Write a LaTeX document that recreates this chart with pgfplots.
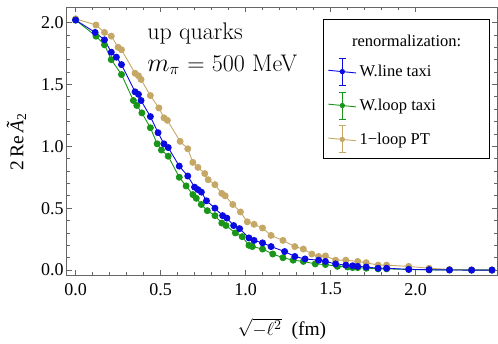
\documentclass[border=0pt]{standalone}
\usepackage{fontspec}
\setmainfont{Liberation Serif}
\newfontfamily\lmfont{Latin Modern Roman}
\usepackage{pgfplots}
\pgfplotsset{compat=1.18}
\definecolor{cblue}{RGB}{10,10,225}
\definecolor{cgreen}{RGB}{25,150,25}
\definecolor{ctan}{RGB}{198,168,102}
\definecolor{frm}{gray}{0.4}
\begin{document}
\begin{tikzpicture}
\useasboundingbox (-44.5pt,-45.6pt) rectangle (287.5pt,183.7pt);
\begin{axis}[
  at={(0,0)}, anchor=south west,
  scale only axis, width=286.9pt, height=179pt,
  xmin=-0.052, xmax=2.48, ymin=-0.044, ymax=2.125,
  axis line style={frm, line width=0.6pt},
  xtick={0,0.5,1,1.5,2}, ytick={0,0.5,1,1.5,2},
  minor x tick num=4, minor y tick num=4,
  xtick pos=both, ytick pos=both,
  xticklabel pos=lower, yticklabel pos=left,
  tick style={frm, line width=0.5pt},
  major tick length=3.6pt, minor tick length=2.2pt,
  tick align=inside,
  /pgf/number format/fixed, /pgf/number format/fixed zerofill,
  /pgf/number format/precision=1, /pgf/number format/assume math mode=true,
  tick label style={font=\fontsize{12}{14}\selectfont, black},
  xticklabel style={yshift=-1.5pt},
  yticklabel style={xshift=1.5pt},
  xlabel={$\sqrt{-\ell^2}$\ \ (fm)},
  ylabel={2\,Re\,\textit{Ã}\textsubscript{2}},
  every axis x label/.style={at={([yshift=-35.5pt]axis description cs:0.5,0)}, anchor=center, inner sep=0pt, font=\fontsize{13}{15}\selectfont},
  every axis y label/.style={at={([xshift=-33.5pt]axis description cs:0,0.5)}, anchor=center, rotate=90, font=\fontsize{13}{15}\selectfont},
  legend style={at={([xshift=-4.7pt,yshift=-8pt]axis description cs:1,1)}, anchor=north east,
    draw=black, line width=0.5pt, font=\fontsize{11}{13}\selectfont, row sep=4pt, inner xsep=3pt, inner ysep=3.5pt},
  legend cell align=left,
]
% 1-loop PT
\addplot[ctan, line width=0.6pt, mark=*, mark size=2pt, mark options={solid, fill=ctan, draw=ctan}, forget plot,
  error bars/.cd, y dir=both, y fixed=0.012, error bar style={ctan, line width=0.5pt}, error mark options={rotate=90, mark size=1.6pt, ctan}]
coordinates {
(0.00,2.03) (0.12,1.98) (0.17,1.92) (0.21,1.89) (0.25,1.80) (0.27,1.78)
(0.35,1.59) (0.37,1.57) (0.385,1.54) (0.44,1.41) (0.49,1.31) (0.52,1.23)
(0.54,1.21) (0.615,1.04) (0.66,0.98) (0.69,0.87) (0.72,0.83) (0.76,0.78)
(0.78,0.73) (0.82,0.69) (0.86,0.62) (0.88,0.60) (0.925,0.53) (0.97,0.47)
(1.01,0.39) (1.05,0.37) (1.10,0.34) (1.15,0.28) (1.22,0.24) (1.29,0.19)
(1.34,0.17) (1.39,0.13) (1.43,0.11) (1.47,0.115) (1.53,0.08) (1.59,0.08)
(1.66,0.07) (1.71,0.06) (1.78,0.04) (1.83,0.04) (1.96,0.03) (2.08,0.015)
(2.20,0.005) (2.33,0.002) (2.45,0.001)
};
% W.loop taxi
\addplot[cgreen, line width=0.6pt, mark=*, mark size=2pt, mark options={solid, fill=cgreen, draw=cgreen}, forget plot,
  error bars/.cd, y dir=both, y fixed=0.012, error bar style={cgreen, line width=0.5pt}, error mark options={rotate=90, mark size=1.6pt, cgreen}]
coordinates {
(0.00,2.02) (0.12,1.89) (0.17,1.82) (0.21,1.70) (0.27,1.58) (0.34,1.37)
(0.36,1.33) (0.39,1.27) (0.44,1.15) (0.48,1.02) (0.505,0.97) (0.545,0.92)
(0.61,0.75) (0.65,0.68) (0.69,0.61) (0.71,0.58) (0.74,0.53) (0.775,0.48)
(0.82,0.44) (0.86,0.38) (0.885,0.36) (0.94,0.30) (0.98,0.27) (1.02,0.20)
(1.04,0.19) (1.10,0.17) (1.16,0.13) (1.22,0.10) (1.28,0.08) (1.34,0.07)
(1.41,0.05) (1.47,0.045) (1.54,0.03) (1.60,0.025) (1.63,0.02) (1.66,0.02)
(1.71,0.015) (1.78,0.01) (1.83,0.01) (1.96,0.005) (2.08,0.002) (2.20,0.001)
(2.33,0.0) (2.45,0.0)
};
% W.line taxi
\addplot[cblue, line width=0.6pt, mark=*, mark size=2pt, mark options={solid, fill=cblue, draw=cblue}, forget plot,
  error bars/.cd, y dir=both, y fixed=0.012, error bar style={cblue, line width=0.5pt}, error mark options={rotate=90, mark size=1.6pt, cblue}]
coordinates {
(0.00,2.02) (0.115,1.92) (0.17,1.86) (0.21,1.76) (0.24,1.72) (0.27,1.66)
(0.35,1.44) (0.37,1.42) (0.385,1.37) (0.44,1.24) (0.485,1.11) (0.52,1.02)
(0.545,0.99) (0.61,0.84) (0.66,0.76) (0.70,0.67) (0.72,0.65) (0.74,0.63)
(0.77,0.56) (0.82,0.50) (0.865,0.44) (0.89,0.42) (0.93,0.36) (0.965,0.335)
(1.02,0.26) (1.05,0.24) (1.10,0.22) (1.15,0.19) (1.23,0.15) (1.29,0.11)
(1.35,0.09) (1.43,0.08) (1.47,0.07) (1.53,0.05) (1.59,0.04) (1.63,0.035)
(1.66,0.03) (1.71,0.025) (1.78,0.015) (1.83,0.015) (1.96,0.006) (2.08,0.003)
(2.20,0.001) (2.33,0.0) (2.45,0.0)
};
\addlegendimage{empty legend}
\addlegendentry{\rule{0pt}{12.5pt}\hspace*{-5pt}renormalization:\hspace*{14pt}}
\addlegendimage{legend image code/.code={
  \draw[cblue, line width=0.6pt] (0pt,0.9pt) -- (18.5pt,-0.9pt);
  \draw[cblue, line width=0.6pt] (9.25pt,-9pt) -- (9.25pt,9pt);
  \draw[cblue, line width=0.6pt] (7pt,-9pt) -- (11.5pt,-9pt);
  \draw[cblue, line width=0.6pt] (7pt,9pt) -- (11.5pt,9pt);
  \fill[cblue] (9.25pt,0pt) circle (1.5pt);}}
\addlegendentry{W.line taxi}
\addlegendimage{legend image code/.code={
  \draw[cgreen, line width=0.6pt] (0pt,0.9pt) -- (18.5pt,-0.9pt);
  \draw[cgreen, line width=0.6pt] (9.25pt,-9pt) -- (9.25pt,9pt);
  \draw[cgreen, line width=0.6pt] (7pt,-9pt) -- (11.5pt,-9pt);
  \draw[cgreen, line width=0.6pt] (7pt,9pt) -- (11.5pt,9pt);
  \fill[cgreen] (9.25pt,0pt) circle (1.5pt);}}
\addlegendentry{W.loop taxi}
\addlegendimage{legend image code/.code={
  \draw[ctan, line width=0.6pt] (0pt,0.9pt) -- (18.5pt,-0.9pt);
  \draw[ctan, line width=0.6pt] (9.25pt,-9pt) -- (9.25pt,9pt);
  \draw[ctan, line width=0.6pt] (7pt,-9pt) -- (11.5pt,-9pt);
  \draw[ctan, line width=0.6pt] (7pt,9pt) -- (11.5pt,9pt);
  \fill[ctan] (9.25pt,0pt) circle (1.5pt);}}
\addlegendentry{1\textminus loop PT}
\node[anchor=base west, inner sep=0pt, font=\lmfont\fontsize{16}{19}\selectfont] at (axis cs:0.42,1.864) {up quarks};
\node[anchor=base west, inner sep=0pt, font=\lmfont\fontsize{16}{19}\selectfont] at (axis cs:0.42,1.608) {$m_\pi$ = 500 MeV};
\end{axis}
\end{tikzpicture}
\end{document}
